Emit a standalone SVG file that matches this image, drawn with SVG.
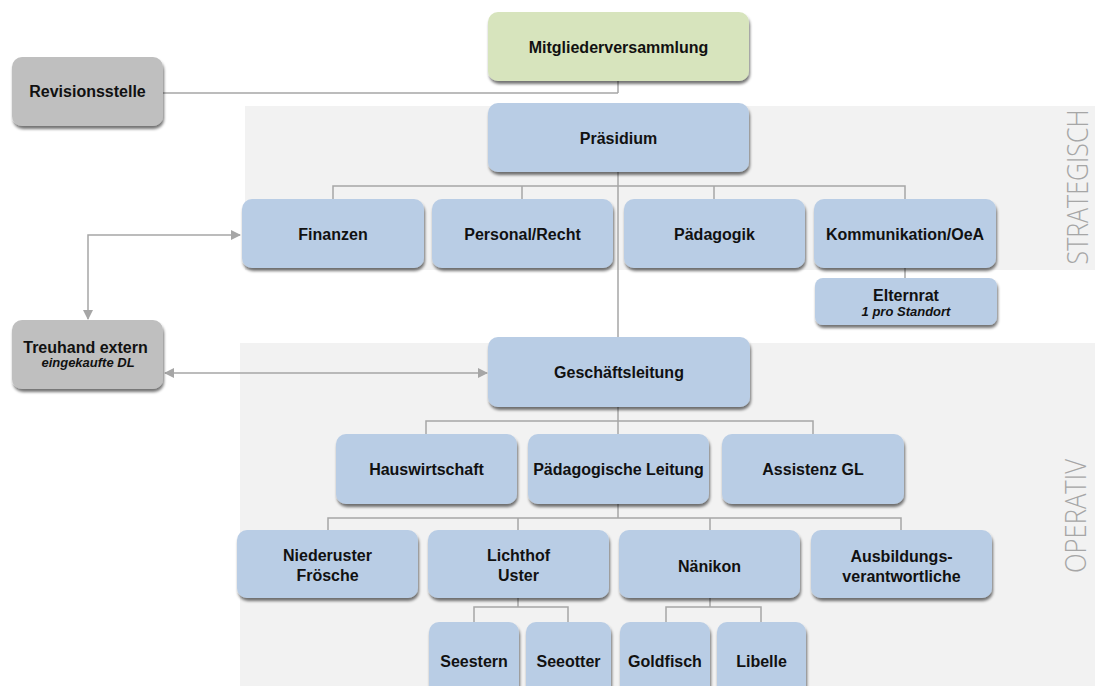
<svg xmlns="http://www.w3.org/2000/svg" width="1095" height="686" viewBox="0 0 1095 686">
<defs>
<filter id="sh" x="-10%" y="-10%" width="120%" height="140%">
<feGaussianBlur in="SourceAlpha" stdDeviation="1.5"/>
<feOffset dx="1" dy="3" result="b"/>
<feComponentTransfer><feFuncA type="linear" slope="0.55"/></feComponentTransfer>
<feMerge><feMergeNode/><feMergeNode in="SourceGraphic"/></feMerge>
</filter>
<marker id="ah" viewBox="0 0 10 10" refX="9" refY="5" markerWidth="10" markerHeight="10" markerUnits="userSpaceOnUse" orient="auto-start-reverse">
<path d="M0,0 L10,5 L0,10 z" fill="#a6a6a6"/>
</marker>
</defs>
<style>
.b{fill:#b9cde5;filter:url(#sh)}
.g{fill:#bfbfbf;filter:url(#sh)}
.gr{fill:#d7e4bd;filter:url(#sh)}
.t{font-family:"Liberation Sans",Arial,sans-serif;font-weight:bold;font-size:16px;fill:#111;text-anchor:middle}
.i{font-family:"Liberation Sans",Arial,sans-serif;font-weight:bold;font-style:italic;font-size:13px;fill:#111;text-anchor:middle}
.ln{fill:none;stroke:#a6a6a6;stroke-width:1.5}
.side{font-family:"Open Sans","Liberation Sans",sans-serif;font-weight:300;font-size:29px;fill:#a6a6a6;text-anchor:middle}
</style>
<rect width="1095" height="686" fill="#ffffff"/>
<g id="bands">
<rect x="245" y="106" width="850" height="164" fill="#f2f2f2"/>
<rect x="240" y="343" width="855" height="343" fill="#f2f2f2"/>
<text class="side" transform="translate(1088,187) rotate(-90)" textLength="155" lengthAdjust="spacingAndGlyphs">STRATEGISCH</text>
<text class="side" transform="translate(1086,516) rotate(-90)" textLength="114" lengthAdjust="spacingAndGlyphs">OPERATIV</text>
</g>
<g id="connectors">
<path class="ln" d="M618,81 V93 M163,93 H618"/>
<path class="ln" d="M618,172 V337"/>
<path class="ln" d="M333,199 V186 H905 V199 M522,186 V199 M714,186 V199"/>
<path class="ln" d="M905,268 V278"/>
<path class="ln" d="M618,407 V434 M426,434 V421 H813 V434"/>
<path class="ln" d="M618,504 V518 M328,530 V518 H901 V530 M518,518 V530 M710,518 V530"/>
<path class="ln" d="M518,598 V607 M474,622 V607 H568 V622"/>
<path class="ln" d="M710,598 V607 M666,622 V607 H761 V622"/>
<path class="ln" d="M240,235 H88 V319" marker-start="url(#ah)" marker-end="url(#ah)"/>
<path class="ln" d="M165,373 H487" marker-start="url(#ah)" marker-end="url(#ah)"/>
</g>
<g id="mitgliederversammlung"><rect class="gr" x="488" y="12" width="261" height="69" rx="10"/><text class="t" x="618.5" y="52.5">Mitgliederversammlung</text></g>
<g id="revisionsstelle"><rect class="g" x="12" y="57" width="151" height="69" rx="10"/><text class="t" x="87.5" y="97">Revisionsstelle</text></g>
<g id="praesidium"><rect class="b" x="488" y="103" width="261" height="69" rx="10"/><text class="t" x="618.5" y="143.5">Präsidium</text></g>
<g id="finanzen"><rect class="b" x="242" y="199" width="182" height="69" rx="10"/><text class="t" x="333" y="239.5">Finanzen</text></g>
<g id="personal"><rect class="b" x="432" y="199" width="181" height="69" rx="10"/><text class="t" x="522.5" y="239.5">Personal/Recht</text></g>
<g id="paedagogik"><rect class="b" x="624" y="199" width="181" height="69" rx="10"/><text class="t" x="714.5" y="239.5">Pädagogik</text></g>
<g id="kommunikation"><rect class="b" x="814" y="199" width="182" height="69" rx="10"/><text class="t" x="905" y="239.5">Kommunikation/OeA</text></g>
<g id="elternrat"><rect class="b" x="815" y="278" width="182" height="47" rx="8"/><text class="t" x="906" y="301">Elternrat</text><text class="i" x="906" y="315.5">1 pro Standort</text></g>
<g id="treuhand"><rect class="g" x="12" y="320" width="151" height="69" rx="10"/><text class="t" x="85.5" y="353">Treuhand extern</text><text class="i" x="88" y="367">eingekaufte DL</text></g>
<g id="geschaeftsleitung"><rect class="b" x="488" y="337" width="262" height="70" rx="10"/><text class="t" x="619" y="378">Geschäftsleitung</text></g>
<g id="hauswirtschaft"><rect class="b" x="336" y="434" width="181" height="70" rx="10"/><text class="t" x="426.5" y="475">Hauswirtschaft</text></g>
<g id="paed-leitung"><rect class="b" x="528" y="434" width="181" height="70" rx="10"/><text class="t" x="618.5" y="475">Pädagogische Leitung</text></g>
<g id="assistenz"><rect class="b" x="722" y="434" width="182" height="70" rx="10"/><text class="t" x="813" y="475">Assistenz GL</text></g>
<g id="niederuster"><rect class="b" x="237" y="530" width="181" height="68" rx="10"/><text class="t" x="327.5" y="561">Niederuster</text><text class="t" x="327.5" y="581">Frösche</text></g>
<g id="lichthof"><rect class="b" x="428" y="530" width="181" height="68" rx="10"/><text class="t" x="518.5" y="561">Lichthof</text><text class="t" x="518.5" y="581">Uster</text></g>
<g id="naenikon"><rect class="b" x="619" y="530" width="181" height="68" rx="10"/><text class="t" x="709.5" y="572">Nänikon</text></g>
<g id="ausbildung"><rect class="b" x="811" y="530" width="181" height="68" rx="10"/><text class="t" x="901.5" y="562">Ausbildungs-</text><text class="t" x="901.5" y="582">verantwortliche</text></g>
<g id="seestern"><rect class="b" x="429" y="622" width="90" height="80" rx="10"/><text class="t" x="474" y="667">Seestern</text></g>
<g id="seeotter"><rect class="b" x="526" y="622" width="85" height="80" rx="10"/><text class="t" x="568.5" y="667">Seeotter</text></g>
<g id="goldfisch"><rect class="b" x="620" y="622" width="90" height="80" rx="10"/><text class="t" x="665" y="667">Goldfisch</text></g>
<g id="libelle"><rect class="b" x="717" y="622" width="89" height="80" rx="10"/><text class="t" x="761.5" y="667">Libelle</text></g>
</svg>
